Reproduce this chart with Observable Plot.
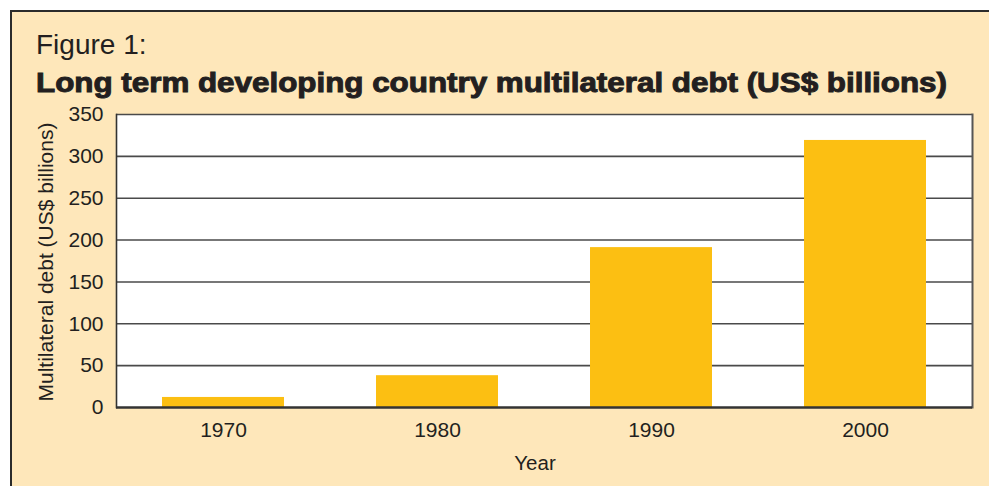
<!DOCTYPE html>
<html>
<head>
<meta charset="utf-8">
<script src="https://cdn.jsdelivr.net/npm/d3@7"></script>
<script src="https://cdn.jsdelivr.net/npm/@observablehq/plot@0.6"></script>
<style>
  html, body { margin: 0; padding: 0; background: #ffffff; width: 989px; height: 486px; overflow: hidden; }
  #panel { position: absolute; left: 10px; top: 10px; width: 1000px; height: 500px;
           background: #FEE7BA; border-left: 2px solid #2b2b2b; border-top: 2px solid #2b2b2b; }
  .t { position: absolute; font-family: "Liberation Sans", Arial, Helvetica, sans-serif; color: #231F20; white-space: nowrap; }
  #fig { left: 36px; top: 31px; font-size: 28px; line-height: 1; }
  #title { left: 36px; top: 69px; font-size: 28px; font-weight: bold; line-height: 1; -webkit-text-stroke: 1px #231F20; transform-origin: 0 0; }
  #ylab { left: 45px; top: 262px; font-size: 21px; transform: translate(-50%, -50%) rotate(-90deg); line-height: 1; }
  #xlab { left: 535px; top: 453px; font-size: 20.5px; transform: translateX(-50%); line-height: 1; }
  #chart { position: absolute; left: 0; top: 100px; }
</style>
</head>
<body>
<div id="panel"></div>
<div class="t" id="fig">Figure 1:</div>
<div class="t" id="title">Long term developing country multilateral debt (US$ billions)</div>
<div class="t" id="ylab">Multilateral debt (US$ billions)</div>
<div class="t" id="xlab">Year</div>
<div id="chart"></div>
<script>
const years = ["1970", "1980", "1990", "2000"];
const debt = [12, 38, 191, 319];
const yTicks = [0, 50, 100, 150, 200, 250, 300, 350];

const data = years.map((y, i) => ({year: y, debt: debt[i]}));

const plot = Plot.plot({
  width: 989,
  height: 386,
  marginLeft: 116,
  marginRight: 17,
  marginTop: 14,
  marginBottom: 79,
  style: {background: "transparent", fontFamily: "\"Liberation Sans\", Arial, sans-serif", fontSize: "21px", color: "#231F20"},
  x: {domain: years, paddingInner: 0.43, paddingOuter: 0.215, round: false, label: null},
  y: {domain: [0, 350], label: null},
  marks: [
    Plot.frame({fill: "white", stroke: "none"}),
    Plot.ruleY(yTicks.slice(1), {stroke: "#4a4a4a", strokeWidth: 1.6}),
    Plot.barY(data, {x: "year", y: "debt", fill: "#FCBF12"}),
    Plot.frame({anchor: "left", stroke: "#333", strokeWidth: 1.6}),
    Plot.frame({anchor: "right", stroke: "#555", strokeWidth: 2}),
    Plot.ruleY([0], {stroke: "#333", strokeWidth: 2.6}),
    Plot.axisY({ticks: yTicks, tickSize: 0, tickPadding: 13, label: null, fontSize: 21, fill: "#231F20"}),
    Plot.axisX({tickSize: 0, tickPadding: 15, label: null, fontSize: 21, fill: "#231F20"})
  ]
});
document.getElementById("chart").appendChild(plot);

// fit bold title to reference width
const title = document.getElementById("title");
const w = title.getBoundingClientRect().width;
title.style.transform = `scaleX(${911 / w})`;
</script>
</body>
</html>
